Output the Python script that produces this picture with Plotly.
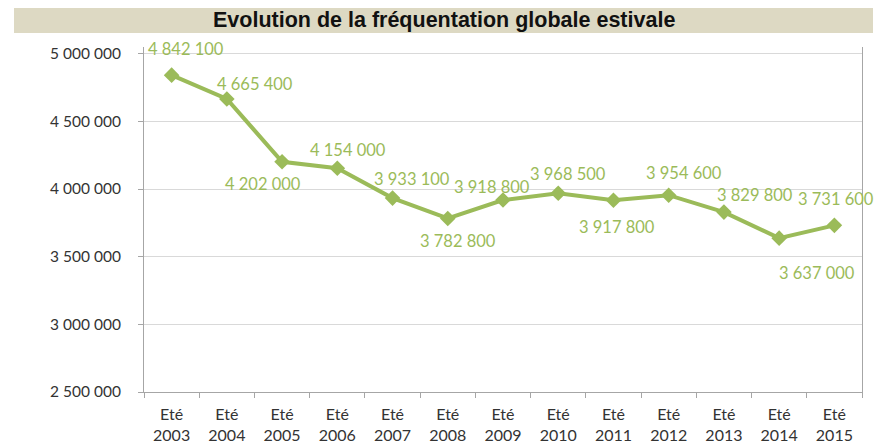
import plotly.graph_objects as go

# ---- data ----
seasons = ["Eté<br>2003", "Eté<br>2004", "Eté<br>2005", "Eté<br>2006", "Eté<br>2007",
           "Eté<br>2008", "Eté<br>2009", "Eté<br>2010", "Eté<br>2011", "Eté<br>2012",
           "Eté<br>2013", "Eté<br>2014", "Eté<br>2015"]
visitors = [4842100, 4665400, 4202000, 4154000, 3933100, 3782800, 3918800,
            3968500, 3917800, 3954600, 3829800, 3637000, 3731600]
y_ticks = [2500000, 3000000, 3500000, 4000000, 4500000, 5000000]
title_text = "Evolution de la fréquentation globale estivale"

# ---- label offsets (pixels, style only) ----
label_dx = [14, 28, -19, 11, 19, 10, -11, 10, 4, 15, 31, 38, 2]
label_dy = [26, 15, -22, 18, 19, -23, 13, 19, -27, 22, 17, -35, 26]

GREEN = "#9BBB59"

fig = go.Figure()
fig.add_trace(go.Scatter(
    x=seasons, y=visitors, mode="lines+markers",
    line=dict(color=GREEN, width=4),
    marker=dict(symbol="diamond", size=12, color=GREEN),
    hoverinfo="skip", showlegend=False,
))

def fmt(v):
    return f"{v:,}".replace(",", " ")

for s, v, dx, dy in zip(seasons, visitors, label_dx, label_dy):
    fig.add_annotation(x=s, y=v, text=fmt(v), showarrow=False,
                       xshift=dx, yshift=dy,
                       font=dict(family="Lato", size=16.5, color=GREEN))

# page has an 8px body margin; figure occupies 881x435 starting at (8, 8)
OFF = 8
FW, FH = 889 - OFF, 443 - OFF
# plot area in page pixels: left 144, right 862, top 47, bottom 392
L, R, T, B = 144 - OFF, 862 - OFF, 47 - OFF, 392 - OFF
W, H = R - L, B - T
def px(xp): return (xp - OFF - L) / W
def py(yp): return (B - (yp - OFF)) / H

fig.add_shape(type="rect", xref="paper", yref="paper",
              x0=px(14), x1=px(873), y0=py(33), y1=py(7),
              fillcolor="#DDD9C3", line=dict(width=0), layer="below")
fig.add_annotation(xref="paper", yref="paper", x=px(443.5), y=py(20),
                   text="<b>" + title_text + "</b>", showarrow=False,
                   xanchor="center", yanchor="middle",
                   font=dict(family="Liberation Sans", size=21.5, color="#111111"))

fig.update_layout(
    width=FW, height=FH,
    margin=dict(l=L, r=FW - R, t=T, b=FH - B, autoexpand=False),
    paper_bgcolor="white", plot_bgcolor="white",
    separators=", ",
    font=dict(family="Lato", size=15, color="#333333"),
    xaxis=dict(
        type="category", range=[-0.5, len(seasons) - 0.5],
        automargin=False,
        showgrid=False, showline=True, linecolor="#A6A6A6", linewidth=1,
        ticks="outside", ticklen=5, tickcolor="#A6A6A6", tickson="boundaries",
        ticklabelstandoff=8,
        tickfont=dict(family="Lato", size=16, color="#333333"),
        fixedrange=True,
    ),
    yaxis=dict(
        range=[2500000, 5050000], tickvals=y_ticks,
        tickformat=",d", automargin=False,
        showgrid=True, gridcolor="#D9D9D9", gridwidth=1,
        showline=True, linecolor="#A6A6A6", linewidth=1, mirror=True,
        ticks="outside", ticklen=5, tickcolor="#A6A6A6",
        ticklabelstandoff=14,
        tickfont=dict(family="Lato", size=15.5, color="#333333"),
        zeroline=False, fixedrange=True,
    ),
)

fig.write_html("out.html")
